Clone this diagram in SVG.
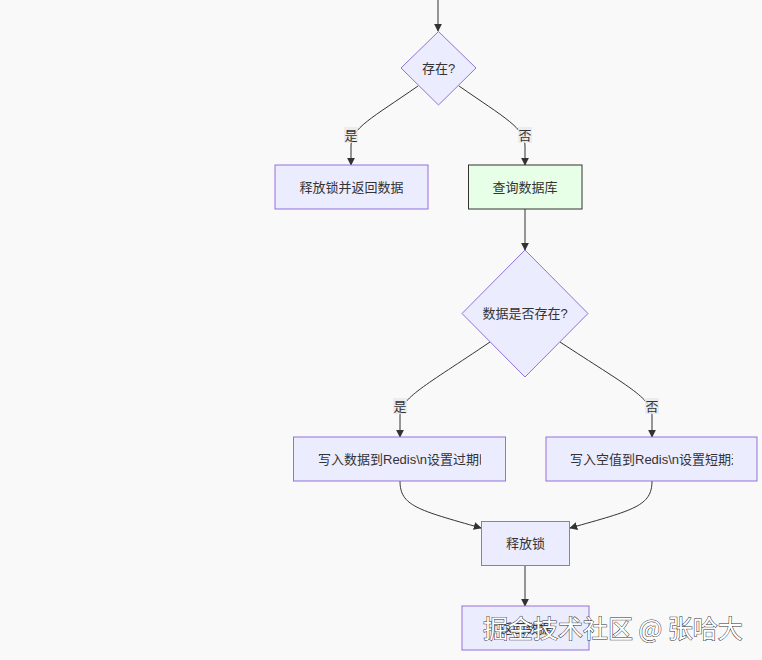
<svg xmlns="http://www.w3.org/2000/svg" width="762" height="660" viewBox="0 0 762 660">
<defs>
<style>
.node{fill:#ececff;stroke:#9370db;stroke-width:1}
.green{fill:#e6ffe6;stroke:#333;stroke-width:1}
.t{font-family:"Liberation Sans","Noto Sans CJK SC",sans-serif;font-size:13px;fill:#333;text-anchor:middle;dominant-baseline:central}
.edge{fill:none;stroke:#333;stroke-width:1;marker-end:url(#arr)}
.lblbg{fill:#e8e8e8;opacity:0.8}
.wm{font-family:"Noto Sans CJK SC","Liberation Sans",sans-serif;font-size:25px;fill:#fff;stroke:#333;stroke-width:1;paint-order:stroke}
</style>
<marker id="arr" viewBox="0 0 10 10" refX="9" refY="5" markerWidth="8" markerHeight="8" markerUnits="userSpaceOnUse" orient="auto">
<path d="M0,0 L10,5 L0,10 z" fill="#333"/>
</marker>
<clipPath id="c1"><rect x="294" y="437" width="187" height="44"/></clipPath>
<clipPath id="c2"><rect x="546" y="437" width="187" height="44"/></clipPath>
</defs>
<rect width="762" height="660" fill="#f9f9f9"/>
<g id="connectors">
<path class="edge" d="M438,0 L438,31"/>
<path class="edge" d="M418,86 C372,118 351,128 351,146 L351,165"/>
<path class="edge" d="M459,86 C505,118 525,128 525,146 L525,165"/>
<path class="edge" d="M525,209 L525,250"/>
<path class="edge" d="M490,342 C425,386 400,398 400,416 L400,437"/>
<path class="edge" d="M560,342 C627,386 652,398 652,416 L652,437"/>
<path class="edge" d="M400,481 C400,506 418,510 481,528"/>
<path class="edge" d="M652,481 C652,506 634,510 570,528"/>
<path class="edge" d="M525,566 L525,606"/>
<rect class="lblbg" x="344" y="127" width="14" height="16"/>
<text class="t" x="351" y="135">是</text>
<rect class="lblbg" x="518" y="127" width="14" height="16"/>
<text class="t" x="525" y="135">否</text>
<rect class="lblbg" x="393" y="398" width="14" height="16"/>
<text class="t" x="400" y="406">是</text>
<rect class="lblbg" x="645" y="398" width="14" height="16"/>
<text class="t" x="652" y="406">否</text>
</g>
<g id="n1">
<polygon class="node" points="438.5,31.5 476,68 438.5,105 401,68"/>
<text class="t" x="438.5" y="68">存在?</text>
</g>
<g id="n2">
<rect class="node" x="275" y="165" width="153" height="44"/>
<text class="t" x="351.5" y="187">释放锁并返回数据</text>
</g>
<g id="n3">
<rect class="green" x="468.5" y="165" width="113.5" height="44"/>
<text class="t" x="525" y="187">查询数据库</text>
</g>
<g id="n4">
<polygon class="node" points="525,250 588,313.5 525,377 462,313.5"/>
<text class="t" x="525" y="313.5">数据是否存在?</text>
</g>
<g id="n5">
<rect class="node" x="293.5" y="437" width="212" height="44"/>
<text class="t" x="318" y="459" style="text-anchor:start" clip-path="url(#c1)">写入数据到Redis\n设置过期时间</text>
</g>
<g id="n6">
<rect class="node" x="546" y="437" width="211" height="44"/>
<text class="t" x="570" y="459" style="text-anchor:start" clip-path="url(#c2)">写入空值到Redis\n设置短期过期</text>
</g>
<g id="n7">
<rect class="node" x="481.5" y="521.5" width="88" height="44"/>
<text class="t" x="525.5" y="543.5">释放锁</text>
</g>
<g id="n8">
<rect class="node" x="462" y="606" width="127" height="44"/>
<text class="t" x="525.5" y="628">返回数据</text>
</g>
<text class="wm" x="483" y="638">掘金技术社区 @ 张哈大</text>
</svg>
